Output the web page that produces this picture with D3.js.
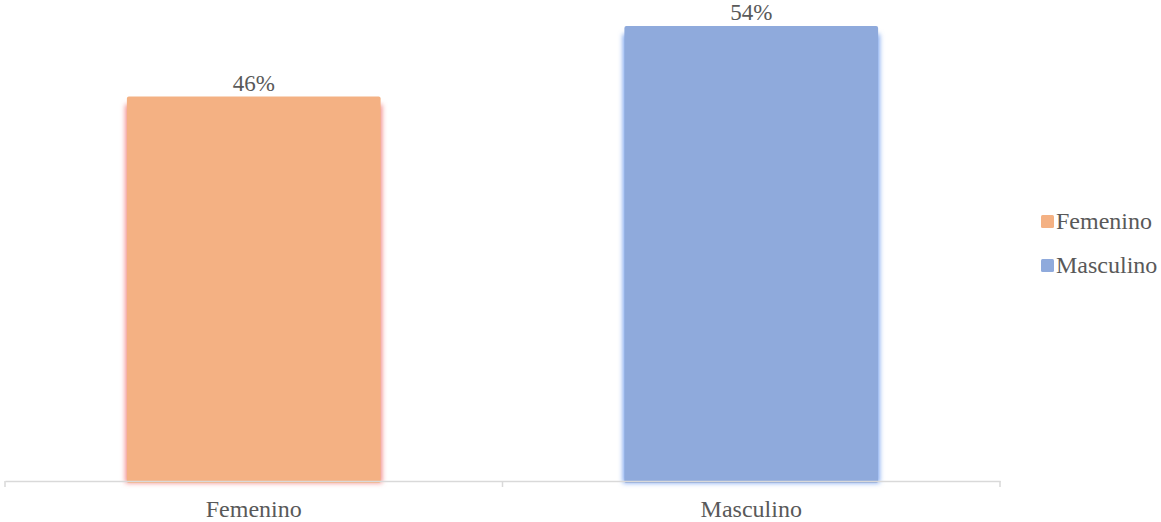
<!DOCTYPE html>
<html>
<head>
<meta charset="utf-8">
<script src="https://cdn.jsdelivr.net/npm/d3@7"></script>
<style>
  body { margin: 0; background: #fff; }
  text { font-family: "Liberation Serif", "Times New Roman", serif; fill: #595959; }
</style>
</head>
<body>
<div id="chart"></div>
<script>
var categories = ["Femenino", "Masculino"];
var values = [0.458, 0.542];
var labels = ["46%", "54%"];
var colors = ["#F4B183", "#8FAADC"];
var glowColors = ["#F28B8B", "#7EA6F0"];

var width = 1161, height = 522;

var svg = d3.select("#chart").append("svg")
  .attr("width", width)
  .attr("height", height);

var defs = svg.append("defs");
defs.append("filter")
  .attr("id", "glow")
  .attr("x", "-10%").attr("y", "-10%")
  .attr("width", "120%").attr("height", "120%")
  .append("feGaussianBlur")
  .attr("stdDeviation", 2.5);

var x = d3.scaleBand()
  .domain(categories)
  .range([5, 1000]);

var y = d3.scaleLinear()
  .domain([0, 0.542])
  .range([481, 26]);

var barW = x.bandwidth() * 0.51;

var g = svg.selectAll(".bar")
  .data(categories)
  .enter().append("g")
  .attr("class", "bar");

// soft coloured edge
g.append("rect")
  .attr("x", function (d) { return x(d) + x.bandwidth() / 2 - barW / 2 - 1.5; })
  .attr("y", function (d, i) { return y(values[i]) + 8; })
  .attr("width", barW + 3)
  .attr("height", function (d, i) { return y(0) - y(values[i]) - 6; })
  .attr("fill", function (d, i) { return glowColors[i]; })
  .attr("filter", "url(#glow)");

g.append("rect")
  .attr("x", function (d) { return x(d) + x.bandwidth() / 2 - barW / 2; })
  .attr("y", function (d, i) { return y(values[i]); })
  .attr("width", barW)
  .attr("height", function (d, i) { return y(0) - y(values[i]) + 2; })
  .attr("rx", 2)
  .attr("fill", function (d, i) { return colors[i]; });

g.append("text")
  .attr("x", function (d) { return x(d) + x.bandwidth() / 2; })
  .attr("y", function (d, i) { return y(values[i]) - 6; })
  .attr("text-anchor", "middle")
  .style("font-size", "23px")
  .text(function (d, i) { return labels[i]; });

// x axis
var axis = svg.append("g")
  .attr("transform", "translate(0,481)")
  .call(d3.axisBottom(x).tickSize(0).tickPadding(0));
axis.select(".domain").attr("stroke", "#D9D9D9").attr("stroke-width", 1.5);
axis.selectAll(".tick text")
  .attr("dy", null)
  .attr("y", 36)
  .style("font-size", "24px")
  .style("font-family", "Liberation Serif, serif")
  .attr("fill", "#595959");

var edges = [x.range()[0]].concat(categories.map(function (d) { return x(d) + x.bandwidth(); }));
axis.selectAll(".edge")
  .data(edges)
  .enter().append("line")
  .attr("x1", function (d) { return d; })
  .attr("x2", function (d) { return d; })
  .attr("y1", 0)
  .attr("y2", 6)
  .attr("stroke", "#D9D9D9")
  .attr("stroke-width", 1.5);

// legend
var legend = svg.selectAll(".legend")
  .data(categories)
  .enter().append("g")
  .attr("class", "legend")
  .attr("transform", function (d, i) { return "translate(1041," + (215 + i * 44) + ")"; });

legend.append("rect")
  .attr("width", 13)
  .attr("height", 13)
  .attr("rx", 1.5)
  .attr("fill", function (d, i) { return colors[i]; });

legend.append("text")
  .attr("x", 15)
  .attr("y", 14)
  .style("font-size", "24px")
  .text(function (d) { return d; });
</script>
</body>
</html>
